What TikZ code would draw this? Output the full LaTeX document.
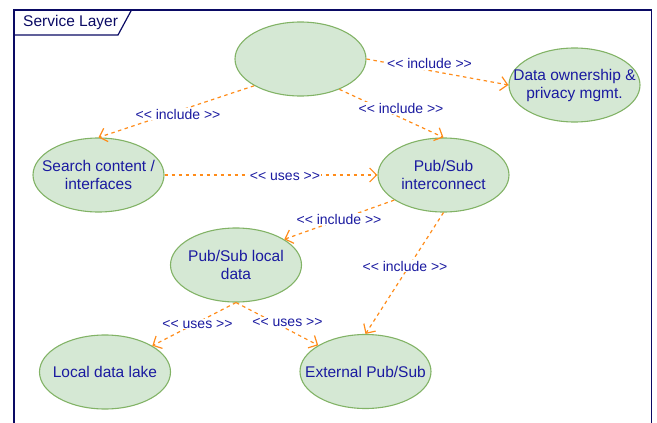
\documentclass[tikz,border=0pt]{standalone}
\usepackage{fontspec}
\setmainfont{Liberation Sans}[Ligatures=TeXOff]
\usetikzlibrary{shapes.geometric,arrows.meta}
\definecolor{ucfill}{HTML}{D5E8D4}
\definecolor{ucdraw}{HTML}{82B366}
\definecolor{txtblue}{RGB}{26,26,160}
\definecolor{edgeor}{RGB}{255,140,26}
\definecolor{framec}{RGB}{10,10,100}
\tikzset{
  usecase/.style={ellipse, draw=ucdraw, fill=ucfill, line width=1.1pt,
    minimum width=131pt, minimum height=74pt, inner sep=0pt,
    label={[align=center, text=txtblue, inner sep=0pt, font=\fontsize{15.5}{18}\selectfont]center:#1}},
  usecase/.default={},
  dep/.style={draw=edgeor, line width=1.2pt, dash pattern=on 3.5pt off 3.5pt,
    -{Straight Barb[length=7pt,width=14pt,line width=1.2pt]}},
  deplabel/.style={fill=white, inner sep=1pt, text=txtblue,
    font=\fontsize{14}{16}\selectfont},
}
\begin{document}
\begin{tikzpicture}[x=1pt,y=-1pt]
\useasboundingbox (0,0) rectangle (657,423);
% frame
\draw[framec, line width=1.2pt] (14,423) -- (14,10) -- (651.5,10) -- (651.5,423);
\draw[framec, line width=1.2pt] (14,35) -- (118,35) -- (131.5,10);
\node[anchor=west, text=framec, inner sep=0pt, font=\fontsize{15.5}{18}\selectfont] (title) at (23,22.5) {Service Layer};
% use cases
\node[usecase] (top) at (300.5,59) {};
\node[usecase={Data ownership \&\\privacy mgmt.}] (data) at (574.5,85) {};
\node[usecase={Search content /\\interfaces}] (search) at (98.5,175) {};
\node[usecase={Pub/Sub\\interconnect}] (ps) at (443.5,175) {};
\node[usecase={Pub/Sub local\\data}] (local) at (236,265) {};
\node[usecase={Local data lake}] (lake) at (105,372) {};
\node[usecase={External Pub/Sub}] (ext) at (365.5,371.5) {};
% connectors
\draw[dep] (top.east) -- (data.west);
\draw[dep] (top.-38) -- (ps.north);
\draw[dep] (top.-150) -- (search.north);
\draw[dep] (search.east) -- (ps.west);
\draw[dep] (ps.-153) -- (local.28);
\draw[dep] (ps.south) -- (ext.north);
\draw[dep] (local.south) -- (lake.29);
\draw[dep] (local.south) -- (ext.151);
% labels
\node[deplabel] (l1) at (429.5,63.5) {<< include >>};
\node[deplabel] (l2) at (401,108) {<< include >>};
\node[deplabel] (l3) at (178,114) {<< include >>};
\node[deplabel] (l4) at (285,176) {<< uses >>};
\node[deplabel] (l5) at (339,219) {<< include >>};
\node[deplabel] (l6) at (405,266) {<< include >>};
\node[deplabel] (l7) at (197.5,324) {<< uses >>};
\node[deplabel] (l8) at (287.5,322) {<< uses >>};
\end{tikzpicture}
\end{document}
